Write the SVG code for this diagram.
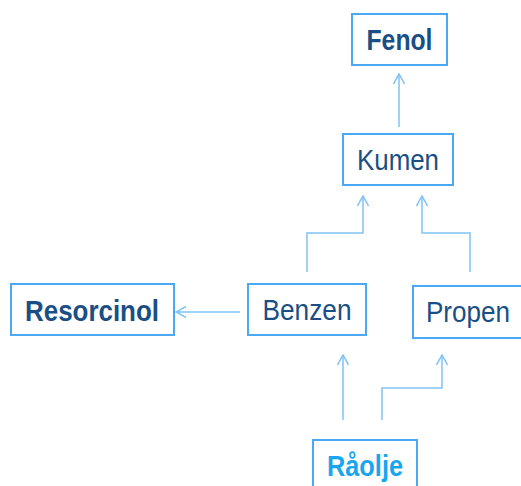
<svg xmlns="http://www.w3.org/2000/svg" width="521" height="486" viewBox="0 0 521 486">
<style>
.box{fill:#fff;stroke:#4aa8f5;stroke-width:2}
.t{font-family:"Liberation Sans",Arial,sans-serif;font-size:30px;fill:#1a4f85;text-anchor:middle}
.b{font-weight:bold}
.c{fill:none;stroke:#80c2f7;stroke-width:1.5;marker-end:url(#ah)}
</style>
<defs>
<marker id="ah" viewBox="0 0 12 12" refX="11" refY="6" markerWidth="12" markerHeight="12" markerUnits="userSpaceOnUse" orient="auto">
<path d="M1,0.5 L11,6 L1,11.5" fill="none" stroke="#80c2f7" stroke-width="1.5"/>
</marker>
</defs>
<rect width="521" height="486" fill="#fff"/>
<g id="connectors">
<path class="c" d="M399,127 V74"/>
<path class="c" d="M307,272 V233 H363 V196"/>
<path class="c" d="M470,272 V233 H422 V196"/>
<path class="c" d="M240,312 H176"/>
<path class="c" d="M343,420 V355"/>
<path class="c" d="M382,420 V388 H442 V355"/>
</g>
<g id="fenol"><rect class="box" x="352" y="14" width="95" height="51"/><text class="t b" x="399.5" y="50" textLength="66" lengthAdjust="spacingAndGlyphs">Fenol</text></g>
<g id="kumen"><rect class="box" x="343" y="134" width="110" height="51"/><text class="t" x="398" y="169.5" textLength="82" lengthAdjust="spacingAndGlyphs">Kumen</text></g>
<g id="resorcinol"><rect class="box" x="11" y="284" width="163" height="51"/><text class="t b" x="92" y="320.5" textLength="134" lengthAdjust="spacingAndGlyphs">Resorcinol</text></g>
<g id="benzen"><rect class="box" x="248" y="284" width="118" height="51"/><text class="t" x="307" y="319.5" textLength="89" lengthAdjust="spacingAndGlyphs">Benzen</text></g>
<g id="propen"><rect class="box" x="413" y="286" width="109.5" height="52"/><text class="t" x="468" y="321.5" textLength="84" lengthAdjust="spacingAndGlyphs">Propen</text></g>
<g id="raolje"><rect class="box" x="313" y="440" width="104" height="60"/><text class="t b" x="365" y="475.5" textLength="76" lengthAdjust="spacingAndGlyphs" style="fill:#1aa6ee">Råolje</text></g>
</svg>
